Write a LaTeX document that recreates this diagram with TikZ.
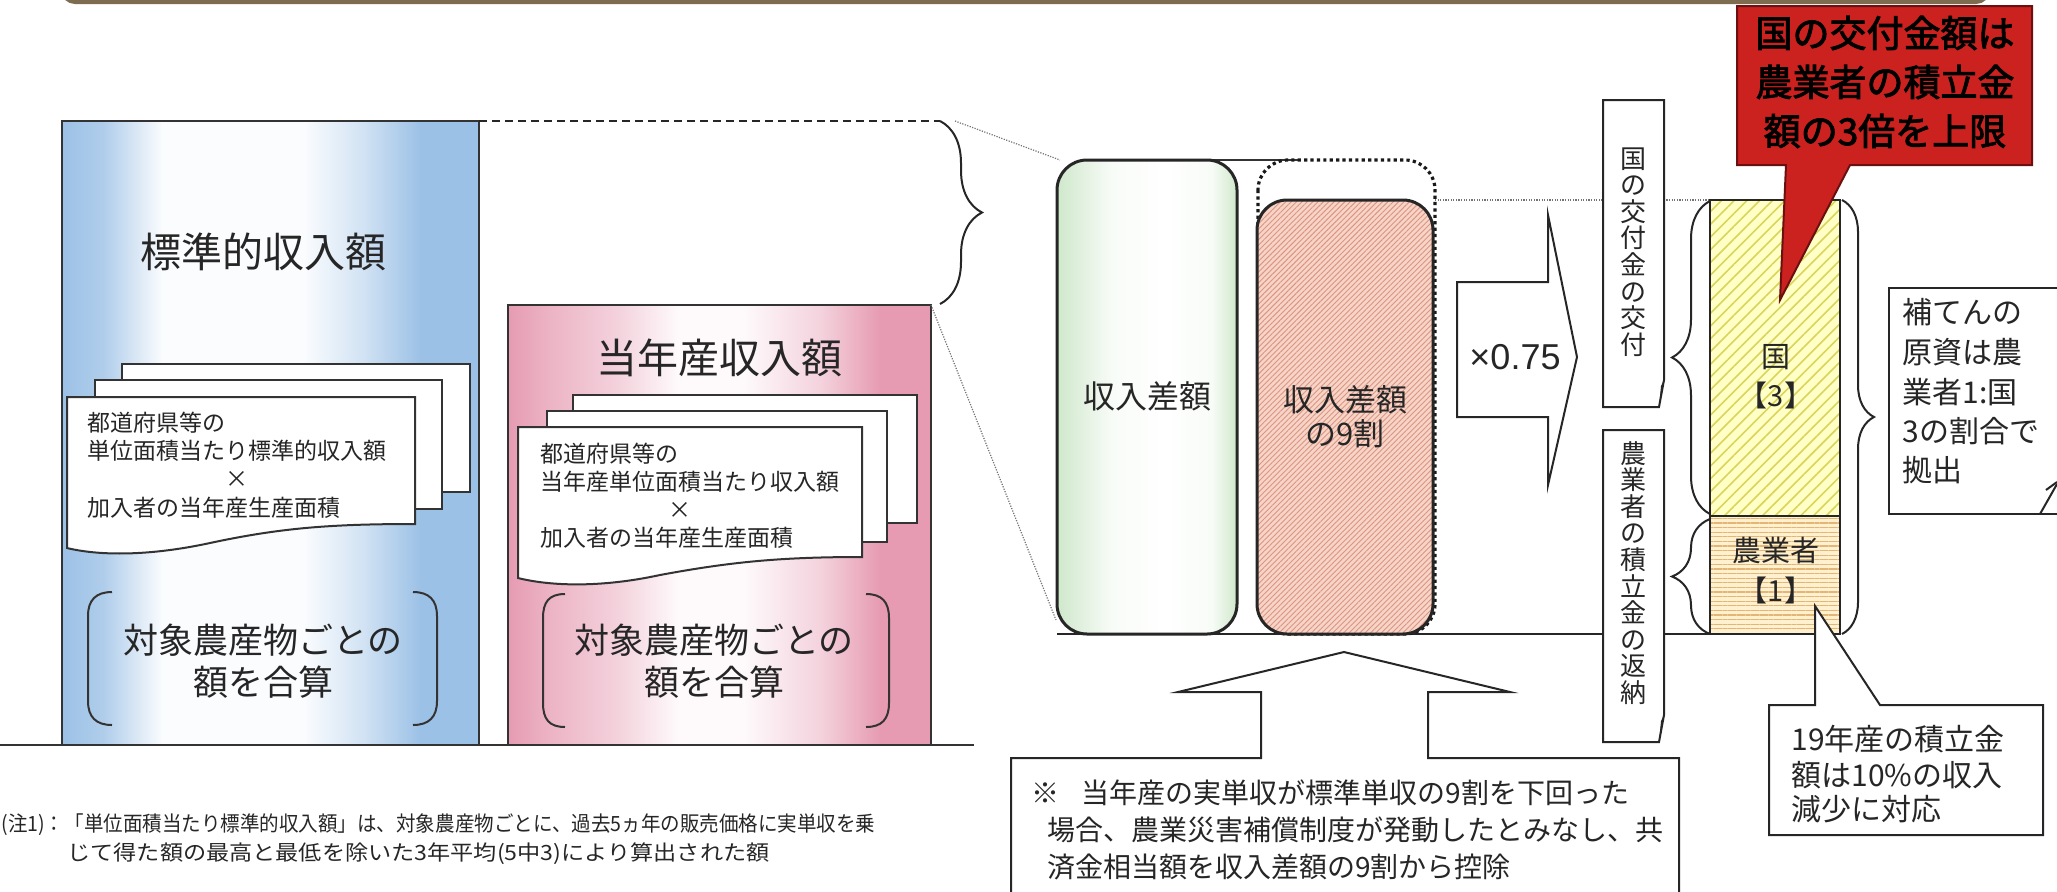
\documentclass[tikz,border=0pt]{standalone}
\usepackage{fontspec}
\usepackage{graphicx}
\setmainfont{Noto Sans CJK JP}
\newfontfamily\latinsans{Liberation Sans}
\newfontfamily\jpbold{Noto Sans CJK JP}[FakeBold=2.5]
\usetikzlibrary{decorations.pathreplacing,patterns.meta}
\definecolor{barbrown}{HTML}{7E6C50}
\definecolor{blueA}{HTML}{9CC1E6}
\definecolor{pinkA}{HTML}{E69BB2}
\definecolor{greenA}{HTML}{CFE8CB}
\definecolor{salmonbg}{HTML}{F6D5C8}
\definecolor{salmonln}{HTML}{DC9480}
\definecolor{yellowbg}{HTML}{FFFFC6}
\definecolor{yellowln}{HTML}{D9D45A}
\definecolor{orangebg}{HTML}{FFF1CF}
\definecolor{orangeln}{HTML}{E3B676}
\definecolor{redbox}{HTML}{CB2220}
\definecolor{rededge}{HTML}{6A1010}
\definecolor{ink}{HTML}{262626}
\colorlet{blueB}{blueA!80!white}
\colorlet{blueC}{blueA!45!white}
\colorlet{blueW}{blueA!5!white}
\colorlet{pinkB}{pinkA!75!white}
\colorlet{pinkC}{pinkA!45!white}
\colorlet{pinkW}{pinkA!6!white}
\colorlet{greenW}{greenA!15!white}
\pgfdeclarehorizontalshading{blueshade}{100bp}{color(0bp)=(blueA); color(25bp)=(blueA); color(30bp)=(blueB); color(37bp)=(blueW); color(54bp)=(blueW); color(61bp)=(blueC); color(68bp)=(blueA); color(100bp)=(blueA)}
\pgfdeclarehorizontalshading{pinkshade}{100bp}{color(0bp)=(pinkA); color(25bp)=(pinkA); color(30bp)=(pinkB); color(38bp)=(pinkC); color(45bp)=(pinkW); color(53bp)=(pinkW); color(62bp)=(pinkC); color(69bp)=(pinkA); color(100bp)=(pinkA)}
\pgfdeclarehorizontalshading{greenshade}{100bp}{color(0bp)=(greenA); color(25bp)=(greenA); color(40bp)=(greenW); color(55bp)=(white); color(68bp)=(greenW); color(75bp)=(greenA); color(100bp)=(greenA)}
\newcommand\fs[1]{\fontsize{#1}{#1}\selectfont}
\begin{document}
\begin{tikzpicture}[x=0.5pt,y=-0.5pt,
  frame/.style={draw=black!80, line width=1pt},
  sheetbox/.style={fill=white, draw=black!80, line width=1pt},
  thindot/.style={draw=black!55, line width=0.6pt, dash pattern=on 0.6pt off 0.7pt},
  txt/.style={inner sep=0pt, text=ink},
  bracedraw/.style={decorate, decoration={brace, amplitude=#1}, draw=black!85, line width=1pt},
]
\useasboundingbox (0,0) rectangle (2057,891);

% top bar
\draw[barbrown, line width=2pt, rounded corners=6pt] (63,-30) -- (63,2) -- (1988,2) -- (1988,-30);

% ---------- standard income (blue) ----------
\shade[shading=blueshade] (62,121) rectangle (479,745);
\draw[frame] (62,121) rectangle (479,745);
\node[txt, font=\fs{20.5pt}] (btitle) at (263,252) {標準的収入額};
\draw[sheetbox] (122,364) rectangle (470,492);
\draw[sheetbox] (95,380) rectangle (442,509);
\draw[sheetbox] (67,397) -- (415,397) -- (415,524) .. controls (330,524) and (280,528) .. (210,543) .. controls (150,556) and (100,556) .. (67,548) -- cycle;
\node[txt, anchor=west, font=\fs{11.5pt}] (bs1) at (87,423) {都道府県等の};
\node[txt, anchor=west, font=\fs{11.5pt}] (bs2) at (87,451) {単位面積当たり標準的収入額};
\node[txt, font=\fs{11.5pt}] (bs3) at (237,479) {×};
\node[txt, anchor=west, font=\fs{11.5pt}] (bs4) at (87,508) {加入者の当年産生産面積};
\draw[black!80, line width=1pt] (112,592) .. controls (96,592) and (88,600) .. (88,616) -- (88,701) .. controls (88,717) and (96,725) .. (112,725);
\draw[black!80, line width=1pt] (413,592) .. controls (429,592) and (437,600) .. (437,616) -- (437,701) .. controls (437,717) and (429,725) .. (413,725);
\node[txt, font=\fs{17.5pt}] (bb1) at (263,640) {対象農産物ごとの};
\node[txt, font=\fs{17.5pt}] (bb2) at (263,682) {額を合算};

% dashed line and brace
\coordinate (dashA) at (479,121);
\coordinate (dashB) at (940,121);
\draw[black!85, line width=1pt, dash pattern=on 4pt off 2.5pt] (dashA) -- (dashB);
\coordinate (brTop) at (940,121);
\coordinate (brBot) at (940,304);
\draw[bracedraw=21pt] (brTop) -- (brBot);

% ---------- current income (pink) ----------
\shade[shading=pinkshade] (508,305) rectangle (931,745);
\draw[frame] (508,305) rectangle (931,745);
\node[txt, font=\fs{20.5pt}] (ptitle) at (719,358) {当年産収入額};
\draw[sheetbox] (573,395) rectangle (917,523);
\draw[sheetbox] (547,411) rectangle (887,542);
\draw[sheetbox] (518,427) -- (862,427) -- (862,557) .. controls (780,557) and (730,562) .. (660,575) .. controls (600,588) and (550,586) .. (518,578) -- cycle;
\node[txt, anchor=west, font=\fs{11.5pt}] (ps1) at (540,454) {都道府県等の};
\node[txt, anchor=west, font=\fs{11.5pt}] (ps2) at (540,482) {当年産単位面積当たり収入額};
\node[txt, font=\fs{11.5pt}] (ps3) at (680,510) {×};
\node[txt, anchor=west, font=\fs{11.5pt}] (ps4) at (540,538) {加入者の当年産生産面積};
\draw[black!80, line width=1pt] (565,594) .. controls (549,594) and (543,602) .. (543,618) -- (543,703) .. controls (543,719) and (549,727) .. (565,727);
\draw[black!80, line width=1pt] (866,594) .. controls (882,594) and (889,602) .. (889,618) -- (889,703) .. controls (889,719) and (882,727) .. (866,727);
\node[txt, font=\fs{17.5pt}] (pb1) at (714,640) {対象農産物ごとの};
\node[txt, font=\fs{17.5pt}] (pb2) at (714,682) {額を合算};

\draw[black!80, line width=1pt] (0,745) -- (974,745);

% ---------- middle ----------
\coordinate (gTL) at (1060,160);
\coordinate (gBL) at (1056,620);
\coordinate (pTR) at (931,305);
\draw[thindot] (955,121) -- (gTL);
\draw[thindot] (pTR) -- (gBL);
\draw[black!80, line width=0.7pt] (1150,160) -- (1300,160);
\draw[black!85, line width=1pt] (1057,634) -- (1775,634);
\draw[thindot] (1435,200) -- (1712,200);

\shade[shading=greenshade, rounded corners=15pt] (1057,160) rectangle (1237,634);
\draw[black!85, line width=1.5pt, rounded corners=15pt] (1057,160) rectangle (1237,634);
\node[txt, font=\fs{16pt}] (gtext) at (1147,396) {収入差額};

\draw[black!90, line width=1.6pt, dash pattern=on 1.6pt off 1.6pt, rounded corners=15pt] (1258,160) rectangle (1435,634);
\fill[salmonbg, rounded corners=15pt] (1257,200) rectangle (1433,634);
\fill[pattern={Lines[angle=45,distance=1.9pt,line width=0.45pt]}, pattern color=salmonln, rounded corners=15pt] (1257,200) rectangle (1433,634);
\draw[black!85, line width=1.5pt, rounded corners=15pt] (1257,200) rectangle (1433,634);
\node[txt, font=\fs{15.5pt}] (ptext1) at (1345,400) {収入差額};
\node[txt, font=\fs{15.5pt}] (ptext2) at (1345,434) {の9割};

% x0.75 arrow
\draw[black!85, line width=1pt, fill=white] (1457,282) -- (1548,282) -- (1548,215) -- (1577,357) -- (1548,485) -- (1548,417) -- (1457,417) -- cycle;
\node[txt, font=\latinsans\fs{18pt}] (mul) at (1515,357) {×0.75};

% vertical boxes
\draw[black!85, line width=1pt, fill=white] (1603,100) -- (1664,100) -- (1664,380) -- (1659,407) -- (1603,407) -- cycle;
\fill[black!85] (1664,380) -- (1659,407) -- (1661,386) -- cycle;
\node[txt, align=center, font=\fontsize{13pt}{13.3pt}\selectfont] (vt1) at (1633,252) {国\\の\\交\\付\\金\\の\\交\\付};
\draw[black!85, line width=1pt, fill=white] (1603,430) -- (1664,430) -- (1664,715) -- (1659,742) -- (1603,742) -- cycle;
\fill[black!85] (1664,715) -- (1659,742) -- (1661,721) -- cycle;
\node[txt, align=center, font=\fontsize{13pt}{13.3pt}\selectfont] (vt2) at (1633,573) {農\\業\\者\\の\\積\\立\\金\\の\\返\\納};

% stacked bar
\fill[yellowbg] (1710,200) rectangle (1840,516);
\fill[pattern={Lines[angle=45,distance=4.5pt,line width=0.8pt]}, pattern color=yellowln] (1710,200) rectangle (1840,516);
\fill[orangebg] (1710,516) rectangle (1840,634);
\fill[pattern={Lines[angle=0,distance=2.3pt,line width=0.6pt]}, pattern color=orangeln] (1710,516) rectangle (1840,634);
\draw[black!85, line width=1pt] (1710,200) rectangle (1840,634);
\draw[black!85, line width=1pt] (1710,516) -- (1840,516);
\node[txt, font=\fs{14.5pt}] (kuni) at (1776,357) {国};
\node[txt, font=\fs{14.5pt}] (kuni3) at (1776,395) {【3】};
\node[txt, font=\fs{14.5pt}] (nou) at (1776,550) {農業者};
\node[txt, font=\fs{14.5pt}] (nou1) at (1776,590) {【1】};

\draw[bracedraw=19pt] (1710,514) -- (1710,201);
\draw[bracedraw=19pt] (1710,634) -- (1710,519);
\draw[bracedraw=16pt] (1842,200) -- (1842,634);

% callout: funding ratio
\draw[black!85, line width=1pt, fill=white] (2062,514) -- (1889,514) -- (1889,288) -- (2062,288);
\draw[black!85, line width=1pt] (2040,514) -- (2057,484);
\draw[black!85, line width=1pt] (2046,490) -- (2057,482);
\node[txt, anchor=west, font=\fs{15pt}] (h1) at (1902,312) {補てんの};
\node[txt, anchor=west, font=\fs{15pt}] (h2) at (1902,352) {原資は農};
\node[txt, anchor=west, font=\fs{15pt}] (h3) at (1902,392) {業者1:国};
\node[txt, anchor=west, font=\fs{15pt}] (h4) at (1902,431) {3の割合で};
\node[txt, anchor=west, font=\fs{15pt}] (h5) at (1902,470) {拠出};

% callout: 19
\coordinate (tip19) at (1815,606);
\draw[black!85, line width=1pt, fill=white] (1769,705) -- (1815,705) -- (tip19) -- (1880,705) -- (2043,705) -- (2043,835) -- (1769,835) -- cycle;
\node[txt, anchor=west, font=\fs{15pt}] (n1) at (1791,739) {19年産の積立金};
\node[txt, anchor=west, font=\fs{15pt}] (n2) at (1791,775) {額は10\%の収入};
\node[txt, anchor=west, font=\fs{15pt}] (n3) at (1791,809) {減少に対応};

% red callout
\coordinate (redtip) at (1780,300);
\draw[rededge, line width=1pt, fill=redbox] (1737,6) -- (2032,6) -- (2032,165) -- (1850,165) -- (redtip) -- (1786,165) -- (1737,165) -- cycle;
\node[txt, text=black, font=\jpbold\fs{18.5pt}] (r1) at (1885,33) {国の交付金額は};
\node[txt, text=black, font=\jpbold\fs{18.5pt}] (r2) at (1885,82) {農業者の積立金};
\node[txt, text=black, font=\jpbold\fs{18.5pt}] (r3) at (1885,131) {額の3倍を上限};

% bottom callout with up arrow
\coordinate (uptip) at (1344,652);
\draw[black!85, line width=1pt, fill=white] (1011,905) -- (1011,758) -- (1261,758) -- (1261,692) -- (1178,692) -- (uptip) -- (1510,692) -- (1428,692) -- (1428,758) -- (1679,758) -- (1679,905);
\node[txt, anchor=west, font=\fs{14pt}] (c1) at (1031,793) {※\hspace{0.8em}当年産の実単収が標準単収の9割を下回った};
\node[txt, anchor=west, font=\fs{14pt}] (c2) at (1047,830) {場合、農業災害補償制度が発動したとみなし、共};
\node[txt, anchor=west, font=\fs{14pt}] (c3) at (1047,867) {済金相当額を収入差額の9割から控除};

% notes
\node[txt, anchor=west, font=\fs{10.5pt}] (note1) at (1,825) {\resizebox{437pt}{\height}{(注1)：「単位面積当たり標準的収入額」は、対象農産物ごとに、過去5ヵ年の販売価格に実単収を乗}};
\node[txt, anchor=west, font=\fs{10.5pt}] (note2) at (67,854) {\resizebox{351pt}{\height}{じて得た額の最高と最低を除いた3年平均(5中3)により算出された額}};
\end{tikzpicture}
\end{document}
